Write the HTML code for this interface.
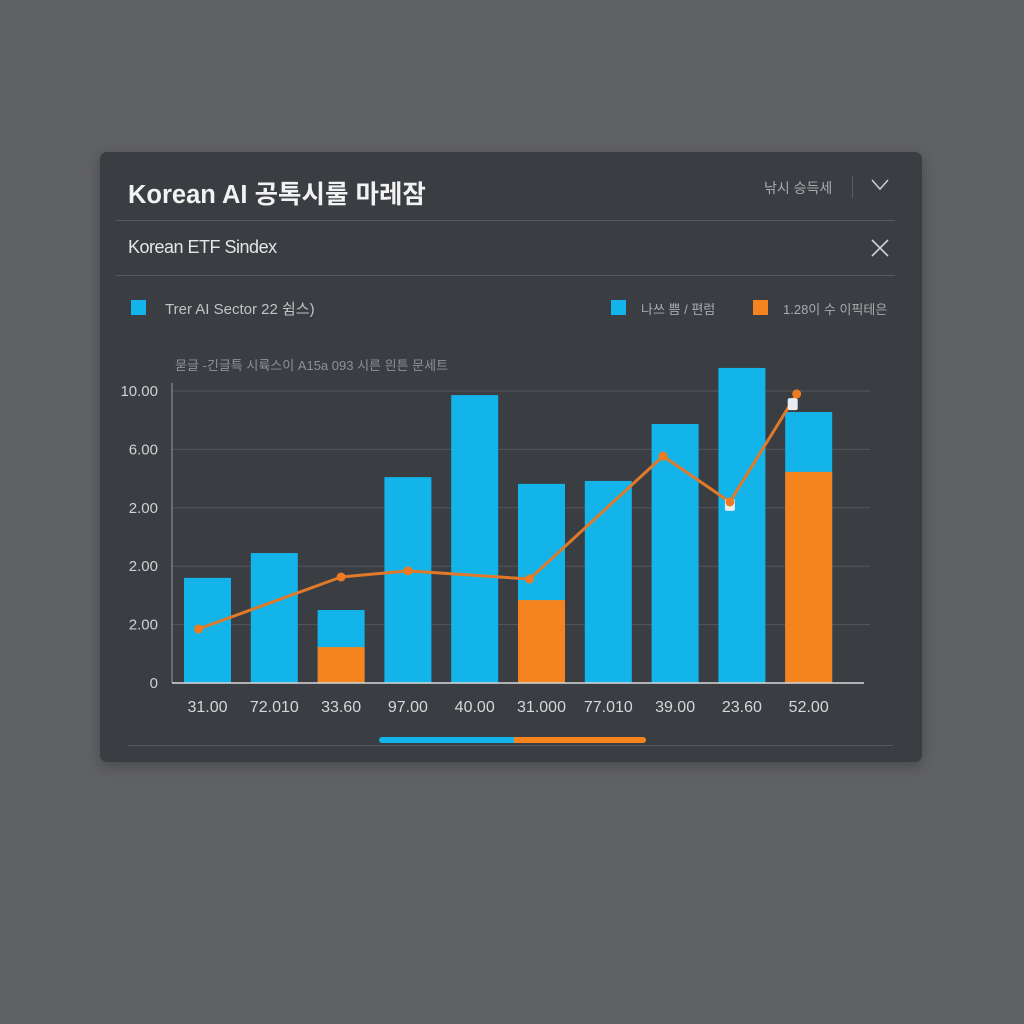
<!DOCTYPE html>
<html><head><meta charset="utf-8">
<style>
body{margin:0;width:1024px;height:1024px;background:#606164;font-family:"Liberation Sans","Noto Sans CJK KR",sans-serif;overflow:hidden;position:relative}
.card{position:absolute;left:100px;top:152px;width:822px;height:610px;background:#3a3d42;border-radius:7px;box-shadow:0 4px 14px rgba(0,0,0,.25)}
.t{position:absolute;white-space:nowrap}
.hr{position:absolute;height:1px;background:#54575c}
.sq{position:absolute;width:15px;height:15px}
</style></head><body>
<div class="card"></div>
<div class="t" style="left:128px;top:174px;font-size:25.5px;font-weight:bold;color:#f2f2f2">Korean AI 공톡시룰 마레잠</div>
<div class="t" style="left:764px;top:178px;font-size:14px;color:#a9abae">낚시 승득세</div>
<div class="hr" style="left:852px;top:176px;width:1px;height:22px;background:#585b60"></div>
<svg style="position:absolute;left:871px;top:179px" width="18" height="12"><polyline points="1,1 9,10 17,1" fill="none" stroke="#c8c9cb" stroke-width="1.6"/></svg>
<div class="hr" style="left:116px;top:220px;width:779px"></div>
<div class="t" style="left:128px;top:237px;font-size:18px;color:#e6e6e6;letter-spacing:-0.5px">Korean ETF Sindex</div>
<svg style="position:absolute;left:871px;top:239px" width="18" height="18"><path d="M1,1L17,17M17,1L1,17" stroke="#d0d1d3" stroke-width="1.6"/></svg>
<div class="hr" style="left:116px;top:275px;width:779px"></div>
<div class="sq" style="left:131px;top:300px;background:#13b4ea"></div>
<div class="t" style="left:165px;top:298px;font-size:15px;color:#c2c3c5">Trer AI Sector 22 쉼스)</div>
<div class="sq" style="left:611px;top:300px;background:#13b4ea"></div>
<div class="t" style="left:641px;top:299px;font-size:13px;color:#a9abae">나쓰 쁨 / 편럼</div>
<div class="sq" style="left:753px;top:300px;background:#f5841f"></div>
<div class="t" style="left:783px;top:299px;font-size:13px;color:#a9abae">1.28이 수 이픽테은</div>
<div class="t" style="left:175px;top:355px;font-size:13px;color:#8f9195">묻글 -긴글특 시륙스이 A15a 093 시른 읜튼 문세트</div>
<svg id="chart" style="position:absolute;left:0;top:0" width="1024" height="1024"></svg>
<div class="hr" style="left:128px;top:745px;width:765px"></div>
<div style="position:absolute;left:379px;top:737px;width:267px;height:6px;border-radius:3px;background:linear-gradient(90deg,#13b4ea 0,#13b4ea 135px,#f5841f 135px)"></div>
<script>
const categories=["31.00","72.010","33.60","97.00","40.00","31.000","77.010","39.00","23.60","52.00"];
const totalValues=[3.6,4.45,2.5,7.05,9.86,6.82,6.92,8.87,10.79,9.28];
const orangeValues=[0,0,1.23,0,0,2.84,0,0,0,7.23];
const lineValues=[1.85,null,3.63,3.84,null,3.56,null,7.77,6.2,9.9];
const markerValues=[null,null,null,null,null,null,null,null,6.1,9.55];
const tickValues=[0,2,4,6,8,10];
const tickLabels=["0","2.00","2.00","2.00","6.00","10.00"];
const NS="http://www.w3.org/2000/svg",svg=document.getElementById("chart");
const y0=683,yTop=391,vMax=10;
const y=v=>y0-(v/vMax)*(y0-yTop);
const x0=184,step=66.8,bw=47;
const xc=i=>x0+i*step+bw/2;
function mk(t,a){const e=document.createElementNS(NS,t);for(const k in a)e.setAttribute(k,a[k]);svg.appendChild(e);return e;}
tickValues.forEach((v,i)=>{
 if(v>0){const g=mk("line",{x1:172,x2:870,y1:y(v),y2:y(v),stroke:"#54575c","stroke-width":1});
 
 }
 const t=mk("text",{x:158,y:y(v)+5,"text-anchor":"end","font-size":15,fill:"#d0d1d3"});
 t.textContent=tickLabels[i];
 
 
});
const ax=mk("line",{x1:172,x2:172,y1:383,y2:y0,stroke:"#8a8c90","stroke-width":1.2});


categories.forEach((c,i)=>{
 const xl=x0+i*step;
 const b=mk("rect",{x:xl,y:y(totalValues[i]),width:bw,height:y0-y(totalValues[i]),fill:"#13b4ea"});
 
 
 if(orangeValues[i]>0){const o=mk("rect",{x:xl,y:y(orangeValues[i]),width:bw,height:y0-y(orangeValues[i]),fill:"#f5841f"});
 
 }
 const t=mk("text",{x:xc(i),y:712,"text-anchor":"middle","font-size":16,fill:"#d6d7d9"});
 t.textContent=c;
 
 
});
const base=mk("line",{x1:172,x2:864,y1:y0,y2:y0,stroke:"#d8d9db","stroke-width":1.6});


const pts=[];lineValues.forEach((v,i)=>{if(v!==null)pts.push([xc(i)-(i==0?9:0)-(i>=5?12:0),y(v)]);});
const pl=mk("polyline",{points:pts.map(p=>p.join(",")).join(" "),fill:"none",stroke:"#e07a2a","stroke-width":3,"stroke-linejoin":"round"});


markerValues.forEach((v,i)=>{if(v===null)return;
 const m=mk("rect",{x:xc(i)-(i==9?21:17),y:y(v)-6,width:10,height:12,rx:2,fill:"#e8edf3"});
 
 });
pts.forEach(p=>{const c=mk("circle",{cx:p[0],cy:p[1],r:4.5,fill:"#ee7a22"});
 
 });
</script>
</body></html>
